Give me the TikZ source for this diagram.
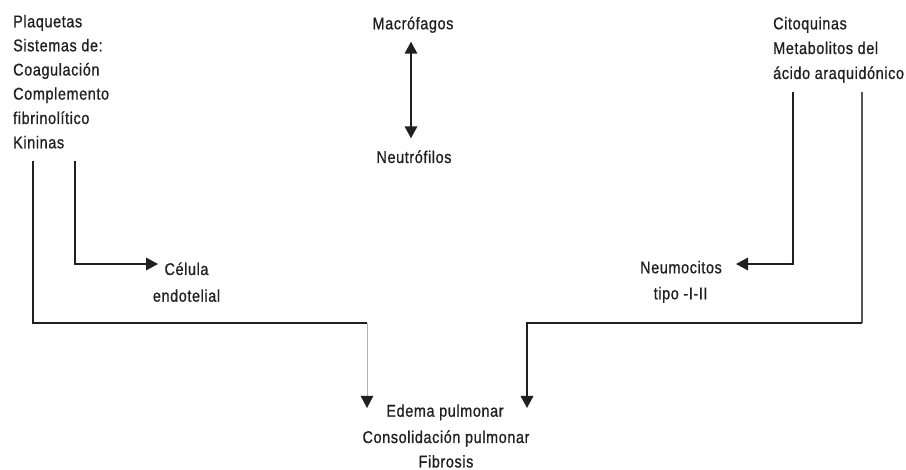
\documentclass[tikz,border=0pt]{standalone}
\usepackage{fontspec}
\setmainfont{Liberation Sans}[FakeStretch=0.85,LetterSpace=3.5,FakeBold=0.8]
\usetikzlibrary{arrows.meta,calc}
\definecolor{ink}{HTML}{231F20}
\begin{document}
\begin{tikzpicture}[x=1pt,y=-1pt,
  txt/.style={inner sep=0pt, font=\fontsize{17}{20}\selectfont, text=ink},
  ln/.style={draw=ink, line width=1.8pt},
  tipend/.style={-{Triangle[length=12pt,width=12.5pt,color=ink]}},
]
\useasboundingbox[fill=white] (0,0) rectangle (906,470);
% left block
\node[txt, anchor=base west] (pl) at (13,27.3) {Plaquetas};
\node[txt, anchor=base west] (si) at (13,51.3) {Sistemas de:};
\node[txt, anchor=base west] (co) at (13,75.5) {Coagulación};
\node[txt, anchor=base west] (cm) at (13,99.6) {Complemento};
\node[txt, anchor=base west] (fi) at (13,124) {fibrinolítico};
\node[txt, anchor=base west] (ki) at (13,148.3) {Kininas};
% middle
\node[txt, anchor=base] (mac) at (413,29.3) {Macrófagos};
\node[txt, anchor=base] (neu) at (414,163) {Neutrófilos};
% right block
\node[txt, anchor=base west] (ci) at (773,29.3) {Citoquinas};
\node[txt, anchor=base west] (me) at (773,54) {Metabolitos del};
\node[txt, anchor=base west] (ac) at (773,79) {ácido araquidónico};
% cells
\node[txt, anchor=base] (cel) at (186.5,275) {Célula};
\node[txt, anchor=base] (end) at (186.5,301.7) {endotelial};
\node[txt, anchor=base] (neum) at (681,273.3) {Neumocitos};
\node[txt, anchor=base] (tipo) at (680.6,299.3) {tipo -I-II};
% bottom
\node[txt, anchor=base] (ed) at (445,416.7) {Edema pulmonar};
\node[txt, anchor=base] (cons) at (446,443) {Consolidación pulmonar};
\node[txt, anchor=base] (fib) at (446,467.5) {Fibrosis};
% coordinates
\coordinate (a1) at ($(ki.base west)+(20,12.7)$);
\coordinate (a2) at ($(ki.base west)+(62,12.7)$);
\coordinate (tc) at ($(cel.base)+(-28.5,-11)$);
\coordinate (jL) at (367,322.7);
\coordinate (tL) at ($(ed.base)+(-78,-8.7)$);
\coordinate (b1) at (793,91.7);
\coordinate (b2) at (862,91.7);
\coordinate (tn) at ($(neum.base)+(55,-9.3)$);
\coordinate (jR) at (527,322.7);
\coordinate (tR) at ($(ed.base)+(82,-8.7)$);
% connectors
\draw[ln, {Triangle[length=12pt,width=12.5pt]}-{Triangle[length=12pt,width=12.5pt]}]
  ($(mac.base)+(-2,12.4)$) -- ($(neu.base)+(-3,-24.7)$);
\draw[ln, tipend] (a2) |- (tc);
\draw[ln] (a1) |- (jL);
\draw[draw=gray!60, line width=0.8pt, tipend] (jL) -- (tL);
\draw[ln, tipend] (b1) |- (tn);
\draw[draw=ink!75, line width=1.8pt] (b2) -- (b2 |- jR);
\draw[ln, tipend] (b2 |- jR) -- (jR) -- (tR);
\end{tikzpicture}
\end{document}
